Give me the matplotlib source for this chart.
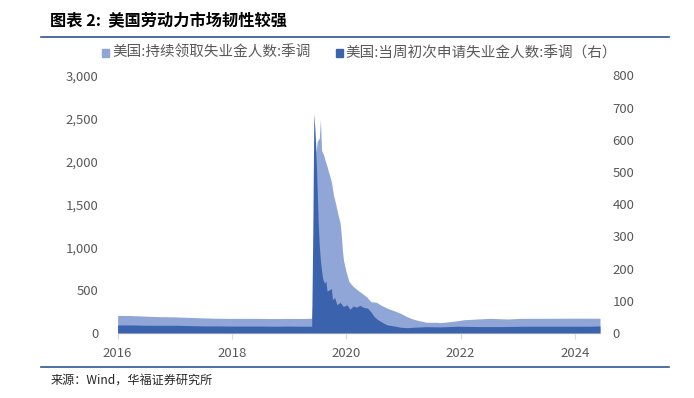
import matplotlib
matplotlib.use("Agg")
import matplotlib.pyplot as plt
from matplotlib.patches import Rectangle
from matplotlib.lines import Line2D

plt.rcParams['font.family'] = ['Noto Sans CJK SC', 'DejaVu Sans']

# ---------------- data (weeks since the start of the axis) ----------------
title = "图表 2:  美国劳动力市场韧性较强"
source = "来源：Wind，华福证券研究所"
legend_labels = ["美国:持续领取失业金人数:季调", "美国:当周初次申请失业金人数:季调（右）"]
year_labels = [2016, 2018, 2020, 2022, 2024]
left_ticks = [0, 500, 1000, 1500, 2000, 2500, 3000]
right_ticks = [0, 100, 200, 300, 400, 500, 600, 700, 800]

# continuing claims (万人), left axis
cont_week = [0, 13, 26, 39, 52, 65, 78, 91, 104, 117, 130, 143, 156, 169, 177,
             178, 179, 180, 181, 182, 183, 184, 185, 186, 187, 188, 189, 191, 193,
             195, 197, 199, 201, 203, 204, 205, 206, 208, 211, 215, 221, 227, 231,
             236, 240, 246, 252, 258, 264, 270, 276, 282, 291, 294, 303, 310, 316,
             328, 340, 356, 368, 386, 404, 422, 440]
cont_val = [205, 203, 196, 190, 188, 182, 176, 172, 170, 171, 170, 168, 170, 169, 172,
            340, 820, 1500, 2100, 2230, 2250, 2270, 2490, 2130, 2100, 2075, 2020, 1940, 1850,
            1760, 1600, 1500, 1380, 1280, 1150, 970, 850, 735, 600, 540, 480, 423, 365,
            358, 326, 288, 260, 230, 190, 160, 140, 125, 125, 120, 132, 143, 155,
            163, 171, 163, 171, 171, 172, 173, 172]

# initial claims (万人), right axis
init_week = [0, 13, 26, 39, 52, 65, 78, 91, 104, 117, 130, 143, 156, 169, 177,
             178, 179, 180, 181, 182, 183, 184, 185, 186, 187, 188, 189, 190, 191, 193,
             195, 196, 198, 200, 203, 206, 209, 212, 215, 218, 221, 224, 228, 231,
             234, 237, 240, 243, 246, 252, 258, 264, 270, 282, 294, 310, 330, 350,
             370, 390, 410, 430, 440]
init_val = [25, 25, 24, 24, 24, 23, 22, 22, 21.5, 21.5, 21.5, 21, 21.5, 21, 21,
            300, 682, 630, 560, 450, 340, 270, 225, 195, 170, 160, 155, 162, 130, 134,
            138, 104, 110, 88, 95, 82, 88, 74, 84, 80, 86, 80, 77, 66,
            51, 42, 36, 30, 25, 22, 18, 16.5, 18, 19.6, 19, 21, 20, 20,
            21, 21, 21, 21, 22]

WEEKS_PER_YEAR = 52.15
LIGHT = '#8FA6D6'
DARK = '#3B63AD'
TXT = '#595959'
AXIS = '#D9D9D9'

fig = plt.figure(figsize=(6.94, 3.98), dpi=100)
W, H = 694, 398
x0, x1, yb, yt = 117.6, 600, 333, 75.5
ax = fig.add_axes([x0 / W, (H - yb) / H, (x1 - x0) / W, (yb - yt) / H])
ax2 = ax.twinx()

ax.fill_between(cont_week, 0, cont_val, color=LIGHT, lw=0)
ax2.fill_between(init_week, 0, init_val, color=DARK, lw=0)

ax.set_xlim(0, 440)
ax.set_ylim(0, 3000)
ax2.set_ylim(0, 800)

ax.set_xticks([(y - 2016) * WEEKS_PER_YEAR for y in year_labels])
ax.set_xticklabels([str(y) for y in year_labels])
ax.set_yticks(left_ticks)
ax.set_yticklabels([f"{v:,}" for v in left_ticks])
ax2.set_yticks(right_ticks)
ax2.set_yticklabels([str(v) for v in right_ticks])

for a in (ax, ax2):
    for s in a.spines.values():
        s.set_visible(False)
ax.spines['bottom'].set_visible(True)
ax.spines['bottom'].set_color(AXIS)
ax.spines['bottom'].set_linewidth(1.0)

ax.tick_params(axis='x', length=4, color=AXIS, pad=6, labelsize=9.5, labelcolor=TXT)
ax.tick_params(axis='y', length=0, pad=14, labelsize=9.5, labelcolor=TXT)
ax2.tick_params(axis='y', length=0, pad=9, labelsize=9.5, labelcolor=TXT)

# title + rules
fig.text(50 / W, 1 - 21 / H, title, fontsize=11.7, fontweight='bold', color='black',
         ha='left', va='center')
fig.add_artist(Line2D([41 / W, 669 / W], [1 - 37 / H, 1 - 37 / H], color='#2F5597', lw=1.2))
fig.add_artist(Line2D([41 / W, 669 / W], [1 - 367 / H, 1 - 367 / H], color='#2F5597', lw=1.2))
fig.text(51 / W, 1 - 380 / H, source, fontsize=8.7, color='#262626', ha='left', va='center')

# legend
ly = 53
for sx, tx, col, lab in [(102, 112, LIGHT, legend_labels[0]), (336, 345, DARK, legend_labels[1])]:
    fig.add_artist(Rectangle((sx / W, 1 - (ly + 3.5) / H), 7 / W, 7 / H, color=col,
                             transform=fig.transFigure))
    fig.text(tx / W, 1 - ly / H, lab, fontsize=10.5, color=TXT, ha='left', va='center')

fig.savefig('out.png', dpi=100)
